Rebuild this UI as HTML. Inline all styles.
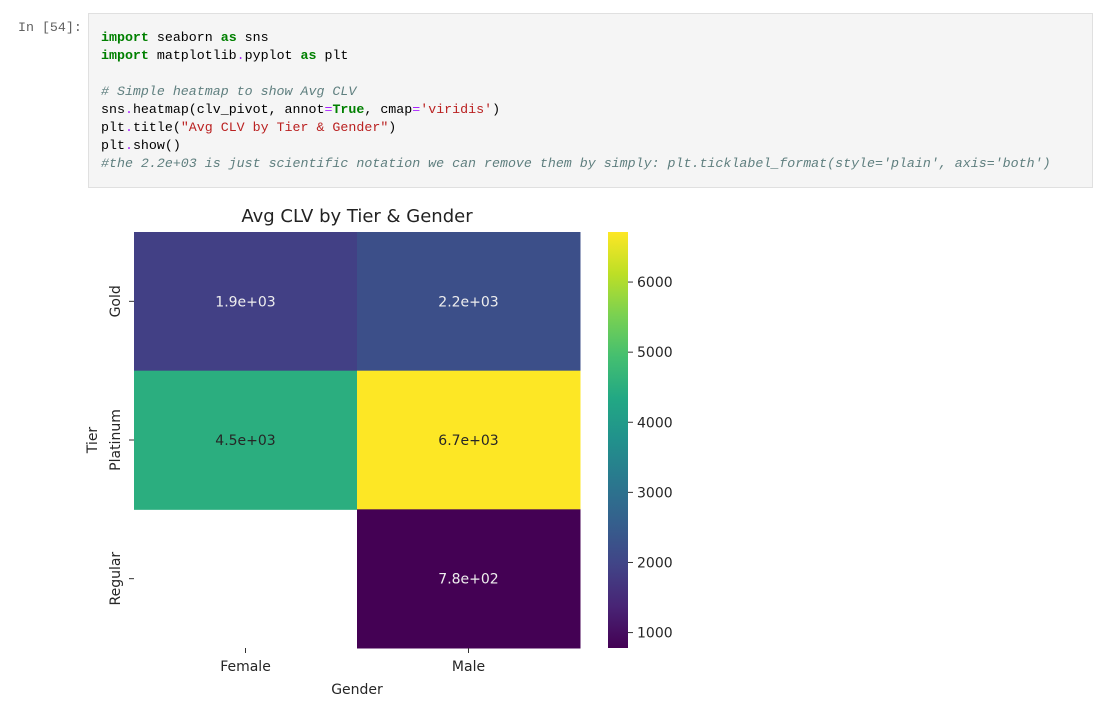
<!DOCTYPE html>
<html><head><meta charset="utf-8">
<style>
body{margin:0;width:1098px;height:710px;background:#fff;overflow:hidden;position:relative;font-family:"DejaVu Sans","Liberation Sans",sans-serif}
.prompt{position:absolute;left:18px;top:20px;font:13.3px "Liberation Mono",monospace;color:#616161}
.cell{position:absolute;left:88px;top:13px;width:1005px;height:175px;background:#f5f5f5;border:1px solid #e0e0e0;box-sizing:border-box}
pre{margin:0;position:absolute;left:12px;top:15px;font:13.3px/18px "Liberation Mono",monospace;color:#000}
.k{color:#008000;font-weight:bold}.o{color:#aa22ff}.s{color:#ba2121}.c{color:#5f7f7f;font-style:italic}
svg{position:absolute;left:0;top:0}
</style></head><body>
<div class="prompt">In [54]:</div>
<div class="cell"><pre><span class="k">import</span> seaborn <span class="k">as</span> sns
<span class="k">import</span> matplotlib<span class="o">.</span>pyplot <span class="k">as</span> plt

<span class="c"># Simple heatmap to show Avg CLV</span>
sns<span class="o">.</span>heatmap(clv_pivot, annot<span class="o">=</span><span class="k">True</span>, cmap<span class="o">=</span><span class="s">'viridis'</span>)
plt<span class="o">.</span>title(<span class="s">"Avg CLV by Tier &amp; Gender"</span>)
plt<span class="o">.</span>show()
<span class="c">#the 2.2e+03 is just scientific notation we can remove them by simply: plt.ticklabel_format(style='plain', axis='both')</span></pre></div>
<svg id="chart" width="1098" height="710"></svg>
<script>
const cols=["Female","Male"];
const rows=["Gold","Platinum","Regular"];
const values=[[1900,2200],[4500,6714],[null,780]];
const labels=[["1.9e+03","2.2e+03"],["4.5e+03","6.7e+03"],["","7.8e+02"]];
const cbTicks=[1000,2000,3000,4000,5000,6000];
const vmin=780,vmax=6714;
const V=[[0,"#440154"],[0.1,"#482475"],[0.2,"#414487"],[0.3,"#355f8d"],[0.4,"#2a788e"],[0.5,"#21918c"],[0.6,"#22a884"],[0.7,"#44bf70"],[0.8,"#7ad151"],[0.9,"#bddf26"],[1,"#fde725"]];
function hx(h){return [1,3,5].map(i=>parseInt(h.substr(i,2),16));}
function vir(t){t=Math.max(0,Math.min(1,t));for(let i=1;i<V.length;i++){if(t<=V[i][0]){const a=hx(V[i-1][1]),b=hx(V[i][1]),f=(t-V[i-1][0])/(V[i][0]-V[i-1][0]);return "rgb("+a.map((x,j)=>Math.round(x+(b[j]-x)*f)).join(",")+")";}}return V[10][1];}
const NS="http://www.w3.org/2000/svg",svg=document.getElementById("chart");
function el(t,a,txt){const e=document.createElementNS(NS,t);for(const k in a)e.setAttribute(k,a[k]);if(txt!=null)e.textContent=txt;svg.appendChild(e);return e;}
const X0=134,Y0=232,W=446,H=416,cw=W/cols.length,ch=H/rows.length;
const xs=i=>X0+i*cw, ys=j=>Y0+j*ch;
const t=el("text",{x:X0+W/2,y:222,"text-anchor":"middle","font-size":"18px",fill:"#222"},"Avg CLV by Tier & Gender");


rows.forEach((r,j)=>cols.forEach((c,i)=>{const v=values[j][i];if(v==null)return;
 const rc=el("rect",{x:xs(i),y:ys(j),width:cw+0.5,height:ch+0.5,fill:vir((v-vmin)/(vmax-vmin))});
 
 
 const lt=el("text",{x:xs(i)+cw/2,y:ys(j)+ch/2+5,"text-anchor":"middle","font-size":"14px",fill:v>(vmin+vmax)/2?"#262626":"#eee"},labels[j][i]);
 
 
}));
rows.forEach((r,j)=>{const y=ys(j)+ch/2;el("line",{x1:X0-5,x2:X0,y1:y,y2:y,stroke:"#333"});
 const tx=el("text",{x:0,y:0,transform:`translate(${X0-14},${y}) rotate(-90)`,"text-anchor":"middle","font-size":"14px",fill:"#262626"},r);
 
 });
cols.forEach((c,i)=>{const x=xs(i)+cw/2;el("line",{x1:x,x2:x,y1:Y0+H,y2:Y0+H+5,stroke:"#333"});
 const tx=el("text",{x:x,y:Y0+H+23,"text-anchor":"middle","font-size":"14px",fill:"#262626"},c);
 
 });
const xl=el("text",{x:X0+W/2,y:694,"text-anchor":"middle","font-size":"14px",fill:"#262626"},"Gender");


const yl=el("text",{x:0,y:0,transform:`translate(97,${Y0+H/2}) rotate(-90)`,"text-anchor":"middle","font-size":"14px",fill:"#262626"},"Tier");


// colorbar
const CX=608,CW=20,cy=v=>Y0+H-(v-vmin)/(vmax-vmin)*H;
const defs=el("defs",{});const g=document.createElementNS(NS,"linearGradient");g.setAttribute("id","vg");g.setAttribute("x1","0");g.setAttribute("y1","1");g.setAttribute("x2","0");g.setAttribute("y2","0");defs.appendChild(g);
V.forEach(s=>{const st=document.createElementNS(NS,"stop");st.setAttribute("offset",s[0]);st.setAttribute("stop-color",s[1]);g.appendChild(st);});
const cb=el("rect",{x:CX,y:Y0,width:CW,height:H,fill:"url(#vg)"});


cbTicks.forEach(v=>{const y=cy(v);el("line",{x1:CX+CW,x2:CX+CW+5,y1:y,y2:y,stroke:"#333"});
 const tx=el("text",{x:CX+CW+9,y:y+5,"font-size":"14px",fill:"#262626"},String(v));
 
 });
</script>
</body></html>
